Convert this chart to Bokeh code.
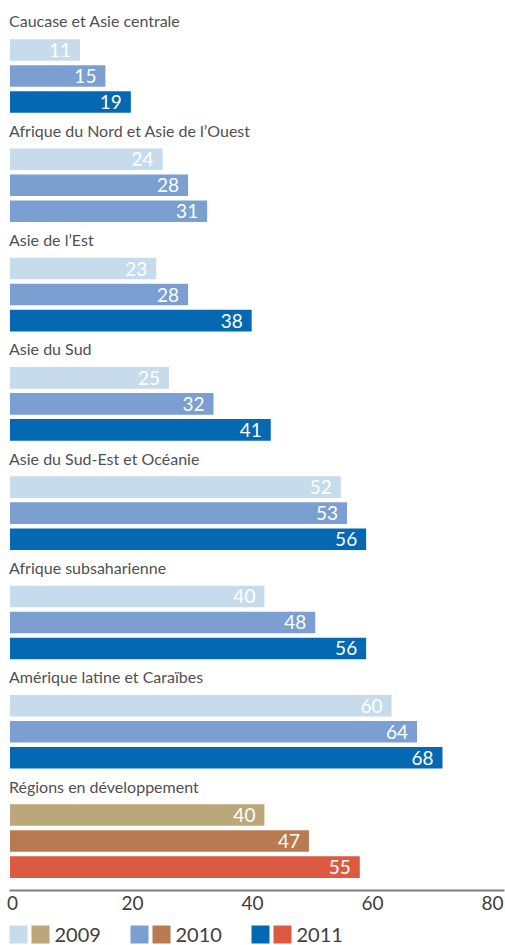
from bokeh.plotting import figure
from bokeh.models import ColumnDataSource, FactorRange, Range1d, LinearAxis, FixedTicker
from bokeh.layouts import column
from bokeh.embed import file_html
from bokeh.resources import INLINE
from bokeh.core.properties import value

# ---------------- data ----------------
regions = [
    "Caucase et Asie centrale",
    "Afrique du Nord et Asie de l’Ouest",
    "Asie de l’Est",
    "Asie du Sud",
    "Asie du Sud-Est et Océanie",
    "Afrique subsaharienne",
    "Amérique latine et Caraïbes",
    "Régions en développement",
]
years = ["2009", "2010", "2011"]
v2009 = [11, 24, 23, 25, 52, 40, 60, 40]
v2010 = [15, 28, 28, 32, 53, 48, 64, 47]
v2011 = [19, 31, 38, 41, 56, 56, 68, 55]
axis_ticks = [0, 20, 40, 60, 80]
aggregate_region = "Régions en développement"

# ---------------- styles ----------------
FONT = "Lato"
TEXT = "#505050"
blue = {"2009": "#c6dcec", "2010": "#7b9fd1", "2011": "#0568b3"}
warm = {"2009": "#bca77a", "2010": "#b87a50", "2011": "#dc5a42"}
color_override = {("Afrique du Nord et Asie de l’Ouest", "2011"): blue["2010"]}

W = 505
MAIN_H = 920
AXIS_PANEL = 30
ZERO_PX = 9.5      # pixel of value 0 for bars
PX_PER_UNIT = 6.36
AX_ZERO_PX = 12.0  # axis tick scale as drawn in the reference
AX_PX_PER_UNIT = 6.0

# ---------------- sources ----------------
series = {"2009": v2009, "2010": v2010, "2011": v2011}
yf, vals, labels, colors = [], [], [], []
for i, r in enumerate(regions):
    pal = warm if r == aggregate_region else blue
    for y in years:
        v = series[y][i]
        yf.append((r, y))
        vals.append(v)
        labels.append(str(v))
        colors.append(color_override.get((r, y), pal[y]))
src = ColumnDataSource(dict(yf=yf, value=vals, label=labels, color=colors))
lab_src = ColumnDataSource(dict(yf=[(r, "label") for r in regions], x=[0] * len(regions), text=regions))

factors = []
for r in regions:
    factors += [(r, "label")] + [(r, y) for y in years]
factors = factors[::-1]  # first region on top

p = figure(
    width=W, height=MAIN_H,
    x_range=Range1d(-ZERO_PX / PX_PER_UNIT, (W - ZERO_PX) / PX_PER_UNIT),
    y_range=FactorRange(*factors, group_padding=0.2, range_padding=0.4, range_padding_units="absolute"),
    toolbar_location=None, output_backend="svg",
    x_axis_location=None, y_axis_location=None,
    min_border_left=0, min_border_right=0, min_border_top=0, min_border_bottom=AXIS_PANEL,
)
p.outline_line_color = None
p.background_fill_color = "white"
p.border_fill_color = "white"
p.grid.visible = False

p.hbar(y="yf", left=0, right="value", height=0.83, fill_color="color", line_color=None, source=src)
p.text(x="value", y="yf", text="label", source=src, text_align="right", text_baseline="middle",
       x_offset=-9, text_color="white", text_font=value(FONT), text_font_size="19px")
p.text(x="x", y="yf", text="text", source=lab_src, text_align="left", text_baseline="middle",
       x_offset=-1, y_offset=-3, text_color=TEXT, text_font=value(FONT), text_font_size="16px")

p.extra_x_ranges = {"ticks": Range1d(-AX_ZERO_PX / AX_PX_PER_UNIT, (W - AX_ZERO_PX) / AX_PX_PER_UNIT)}
ax = LinearAxis(x_range_name="ticks", ticker=FixedTicker(ticks=axis_ticks))
ax.bounds = (-0.5, 82)
ax.axis_line_color = "#7d7d7d"
ax.axis_line_width = 2
ax.major_tick_out = 0
ax.major_tick_in = 0
ax.minor_tick_out = 0
ax.minor_tick_in = 0
ax.major_label_standoff = 5
ax.major_label_text_font = FONT
ax.major_label_text_font_size = "19px"
ax.major_label_text_color = "#404040"
p.add_layout(ax, "below")

# ---------------- legend (two swatches per year) ----------------
LEG_H = 945 - MAIN_H
leg = figure(
    width=W, height=LEG_H, x_range=Range1d(0, W), y_range=Range1d(LEG_H, 0),
    toolbar_location=None, output_backend="svg",
    x_axis_location=None, y_axis_location=None,
    min_border_left=0, min_border_right=0, min_border_top=0, min_border_bottom=0,
)
leg.outline_line_color = None
leg.grid.visible = False
lefts = [9 + 121 * i for i in range(len(years))]
leg.quad(left=lefts, right=[l + 18 for l in lefts], top=5, bottom=23,
         fill_color=[blue[y] for y in years], line_color=None)
leg.quad(left=[l + 22 for l in lefts], right=[l + 40 for l in lefts], top=5, bottom=23,
         fill_color=[warm[y] for y in years], line_color=None)
leg.text(x=[l + 45 for l in lefts], y=14, text=years, text_baseline="middle",
         text_color="#404040", text_font=value(FONT), text_font_size="20px")

layout = column(p, leg, spacing=0)
open("out.html", "w").write(file_html(layout, INLINE))
